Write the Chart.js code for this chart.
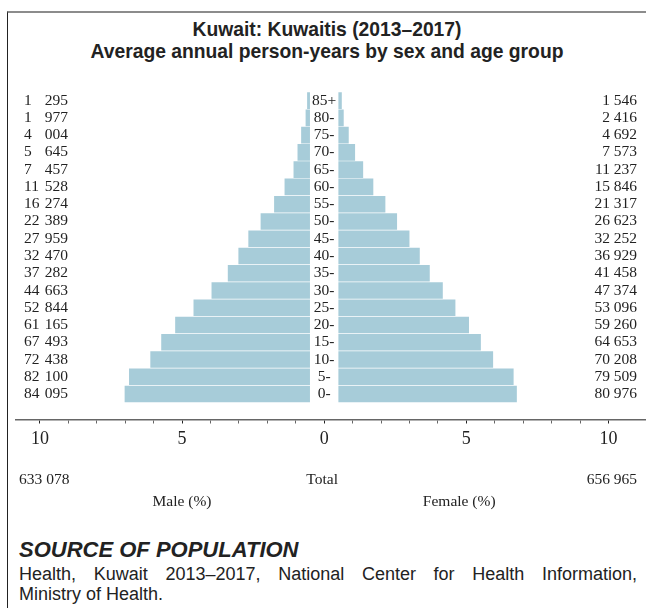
<!DOCTYPE html>
<html>
<head>
<meta charset="utf-8">
<script src="https://cdn.jsdelivr.net/npm/chart.js@4/dist/chart.umd.min.js"></script>
<style>
  html, body { margin: 0; padding: 0; background: #fff; }
  body { width: 646px; height: 608px; position: relative; overflow: hidden; }
  #frame { position: absolute; left: 7px; top: 11px; right: 0; bottom: 0;
           border-top: 2px solid #8c8c8c; border-left: 1px solid #222; }
  #title { position: absolute; left: 8px; top: 19px; width: 638px; text-align: center;
           font: bold 19.3px 'Liberation Sans', Arial, sans-serif; line-height: 22px; color: #222; }
  #chart { position: absolute; left: 0; top: 0; }
  #source { position: absolute; left: 19px; top: 538px; width: 618px; color: #222;
            font-family: 'Liberation Sans', Arial, sans-serif; }
  #source h3 { margin: 0; font-size: 22px; font-weight: bold; font-style: italic; line-height: 24px; }
  #source p { margin: 2px 0 0 0; font-size: 18px; line-height: 20px; }
  #source .l1 { display: block; text-align: justify; text-align-last: justify; }
</style>
</head>
<body>
<div id="frame"></div>
<div id="title">Kuwait: Kuwaitis (2013–2017)<br>Average annual person-years by sex and age group</div>
<canvas id="chart" width="646" height="520"></canvas>
<div id="source">
  <h3>SOURCE OF POPULATION</h3>
  <p><span class="l1">Health, Kuwait 2013–2017, National Center for Health Information,</span>Ministry of Health.</p>
</div>
<script>
// age groups, youngest first (bottom of the pyramid)
const ageGroups = ["0-", "5-", "10-", "15-", "20-", "25-", "30-", "35-", "40-", "45-",
                   "50-", "55-", "60-", "65-", "70-", "75-", "80-", "85+"];
const maleCounts = [84095, 82100, 72438, 67493, 61165, 52844, 44663, 37282, 32470, 27959,
                    22389, 16274, 11528, 7457, 5645, 4004, 1977, 1295];
const femaleCounts = [80976, 79509, 70208, 64653, 59260, 53096, 47374, 41458, 36929, 32252,
                      26623, 21317, 15846, 11237, 7573, 4692, 2416, 1546];
const axisTicks = [-10, -9, -8, -7, -6, -5, -4, -3, -2, -1, 0, 1, 2, 3, 4, 5, 6, 7, 8, 9, 10];

const maleTotal = maleCounts.reduce((a, b) => a + b, 0);
const femaleTotal = femaleCounts.reduce((a, b) => a + b, 0);
const grandTotal = maleTotal + femaleTotal;

const GAP = 0.5; // half-width of the centre label column, in axis units
const serif = "'Liberation Serif', 'DejaVu Serif', serif";

function fmt(n) {
  return String(n).replace(/\B(?=(\d{3})+(?!\d))/g, " ");
}

const labelPlugin = {
  id: "pyramidLabels",
  afterDraw(chart) {
    const { ctx, chartArea } = chart;
    const x = chart.scales.x, y = chart.scales.y;
    ctx.save();
    ctx.fillStyle = "#222";
    ctx.textBaseline = "middle";
    ctx.font = "15.5px " + serif;
    ageGroups.forEach((age, i) => {
      const py = y.getPixelForValue(i);
      // left column is justified: thousands on the left edge, units on the right edge
      const parts = fmt(maleCounts[i]).split(" ");
      ctx.textAlign = "left";
      ctx.fillText(parts[0], 24, py);
      ctx.textAlign = "right";
      ctx.fillText(parts[1], 68, py);
      ctx.fillText(fmt(femaleCounts[i]), 637, py);
      ctx.textAlign = "center";
      ctx.fillText(age, x.getPixelForValue(0), py);
    });
    const rowY = chartArea.bottom + 60;
    ctx.textAlign = "left";
    ctx.fillText(fmt(maleTotal), 19, rowY);
    ctx.textAlign = "center";
    ctx.fillText("Total", x.getPixelForValue(0) - 2, rowY);
    ctx.textAlign = "right";
    ctx.fillText(fmt(femaleTotal), 637, rowY);
    ctx.textAlign = "center";
    ctx.fillText("Male (%)", x.getPixelForValue(-5), rowY + 22);
    ctx.fillText("Female (%)", x.getPixelForValue(4.75), rowY + 22);
    ctx.restore();
  }
};

new Chart(document.getElementById("chart"), {
  type: "bar",
  data: {
    datasets: [{
      label: "Male",
      data: maleCounts.map((c, i) => {
        const pct = c / grandTotal * 100;
        return { y: i, x: [-(GAP + pct), -GAP] };
      }),
      backgroundColor: "#a7ccd9",
      grouped: false
    }, {
      label: "Female",
      data: femaleCounts.map((c, i) => {
        const pct = c / grandTotal * 100;
        return { y: i, x: [GAP, GAP + pct] };
      }),
      backgroundColor: "#a7ccd9",
      grouped: false
    }]
  },
  options: {
    indexAxis: "y",
    responsive: false,
    animation: false,
    devicePixelRatio: 1,
    layout: { padding: { top: 92, left: 16, right: 0, bottom: 0 } },
    datasets: { bar: { categoryPercentage: 1, barPercentage: 0.96 } },
    plugins: {
      legend: { display: false },
      tooltip: { enabled: false }
    },
    scales: {
      y: {
        type: "linear",
        display: false,
        offset: false,
        grid: { offset: false },
        min: -1.48,
        max: 17.5,
        afterBuildTicks: s => { s.ticks = ageGroups.map((_, i) => ({ value: i })); }
      },
      x: {
        type: "linear",
        position: "bottom",
        min: -10.84,
        max: 11.32,
        afterBuildTicks: s => { s.ticks = axisTicks.map(v => ({ value: v })); },
        afterFit: s => { s.height = 100.5; },
        border: { color: "#666", width: 1.5 },
        grid: {
          drawOnChartArea: false,
          tickLength: 4,
          tickWidth: 1,
          tickColor: c => (c.tick && c.tick.value % 5 === 0 ? "#222" : "#666")
        },
        ticks: {
          autoSkip: false,
          maxRotation: 0,
          padding: 5,
          color: "#222",
          font: { family: serif, size: 18 },
          callback: v => (v % 5 === 0 ? String(Math.abs(v)) : "")
        }
      }
    }
  },
  plugins: [labelPlugin]
});
</script>
</body>
</html>
